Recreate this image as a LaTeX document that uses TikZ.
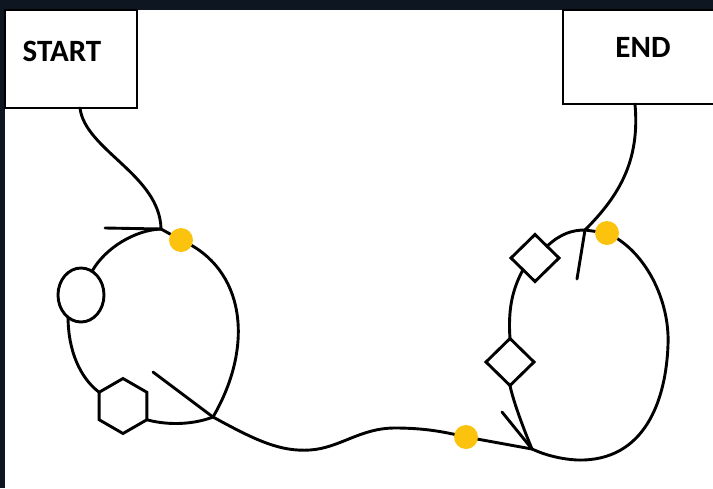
\documentclass[tikz,border=0pt]{standalone}
\usepackage{fontspec}
\setmainfont{Carlito}
\usetikzlibrary{shapes.geometric}
\definecolor{bgc}{HTML}{0D1621}
\definecolor{dotc}{HTML}{FBC30D}
\begin{document}
\begin{tikzpicture}[x=1pt,y=-1pt,
  wire/.style={draw=black, line width=2.9pt, line cap=round, line join=round},
  boxn/.style={draw=black, line width=2.9pt, fill=white, inner sep=0pt, outer sep=0pt, anchor=north west},
  lbl/.style={font=\fontsize{31}{31}\selectfont\bfseries, inner sep=0pt},
  dotn/.style={circle, fill=dotc, minimum size=24pt, inner sep=0pt},
  shp/.style={draw=black, line width=2.9pt, fill=white, inner sep=0pt, outer sep=0pt}]
\useasboundingbox (0,0) rectangle (713,488);
\fill[bgc] (0,0) rectangle (713,488);
\fill[white] (5,10) rectangle (713,488);
% boxes
\node[boxn, minimum width=132pt, minimum height=98pt] (startbox) at (5,10) {};
\node[lbl] (starttxt) at (62,51) {START};
\node[boxn, minimum width=155pt, minimum height=94pt] (endbox) at (563,10) {};
\node[lbl] (endtxt) at (643,47) {END};
% coordinates
\coordinate (sb) at (80,108);
\coordinate (eb) at (635,104);
\coordinate (J1) at (161,229);
\coordinate (J2) at (213,417);
\coordinate (J3) at (532,449);
\coordinate (J4) at (585,230);
\coordinate (p1) at (181,240);
\coordinate (p2) at (607,233);
\coordinate (p3) at (466,437);
\coordinate (t1) at (105,228);
\coordinate (t2) at (153,372);
\coordinate (t3) at (502,412);
\coordinate (t4) at (577,279);
\coordinate (m1) at (310,450);
\coordinate (m2) at (395,428);
\coordinate (r1) at (668,345);
\coordinate (r2) at (577,460);
% shapes
\node[shp, ellipse, minimum width=46pt, minimum height=54pt] (ell) at (81,295) {};
\node[shp, regular polygon, regular polygon sides=6, shape border rotate=30, minimum size=55pt] (hex) at (123,406) {};
\node[shp, diamond, minimum width=48pt, minimum height=47pt] (dia1) at (535,258) {};
\node[shp, diamond, minimum width=48pt, minimum height=47pt] (dia2) at (510,362) {};
% left loop
\draw[wire] (sb) .. controls (85,150) and (160,175) .. (J1);
\draw[wire] (t1) -- (J1);
\draw[wire] (J1) .. controls (135,230) and (105,248) .. (ell.65);
\draw[wire] (ell.240) .. controls (68,350) and (80,378) .. (hex.150);
\draw[wire] (hex.330) .. controls (170,426) and (195,424) .. (J2);
\draw[wire] (t2) -- (J2);
\draw[wire] (J1) -- (p1);
\draw[wire] (p1) .. controls (245,268) and (255,345) .. (J2);
% bottom connection
\draw[wire] (J2) .. controls (255,440) and (280,452) .. (m1)
  .. controls (340,448) and (360,428) .. (m2)
  .. controls (425,428) and (445,432) .. (p3);
\draw[wire] (p3) -- (J3);
% right loop
\draw[wire] (t3) -- (J3);
\draw[wire] (J3) .. controls (522,425) and (513,400) .. (dia2.south);
\draw[wire] (dia2.north) .. controls (508,310) and (512,290) .. (dia1.south west);
\draw[wire] (dia1.north east) .. controls (560,234) and (572,230) .. (J4);
\draw[wire] (eb) .. controls (640,160) and (620,195) .. (J4);
\draw[wire] (J4) -- (t4);
\draw[wire] (J4) -- (p2);
\draw[wire] (p2) .. controls (645,250) and (670,300) .. (r1)
  .. controls (666,400) and (645,462) .. (r2)
  .. controls (560,459) and (545,455) .. (J3);
% dots
\node[dotn] (dot1) at (p1) {};
\node[dotn] (dot2) at (p2) {};
\node[dotn] (dot3) at (p3) {};
\end{tikzpicture}
\end{document}
